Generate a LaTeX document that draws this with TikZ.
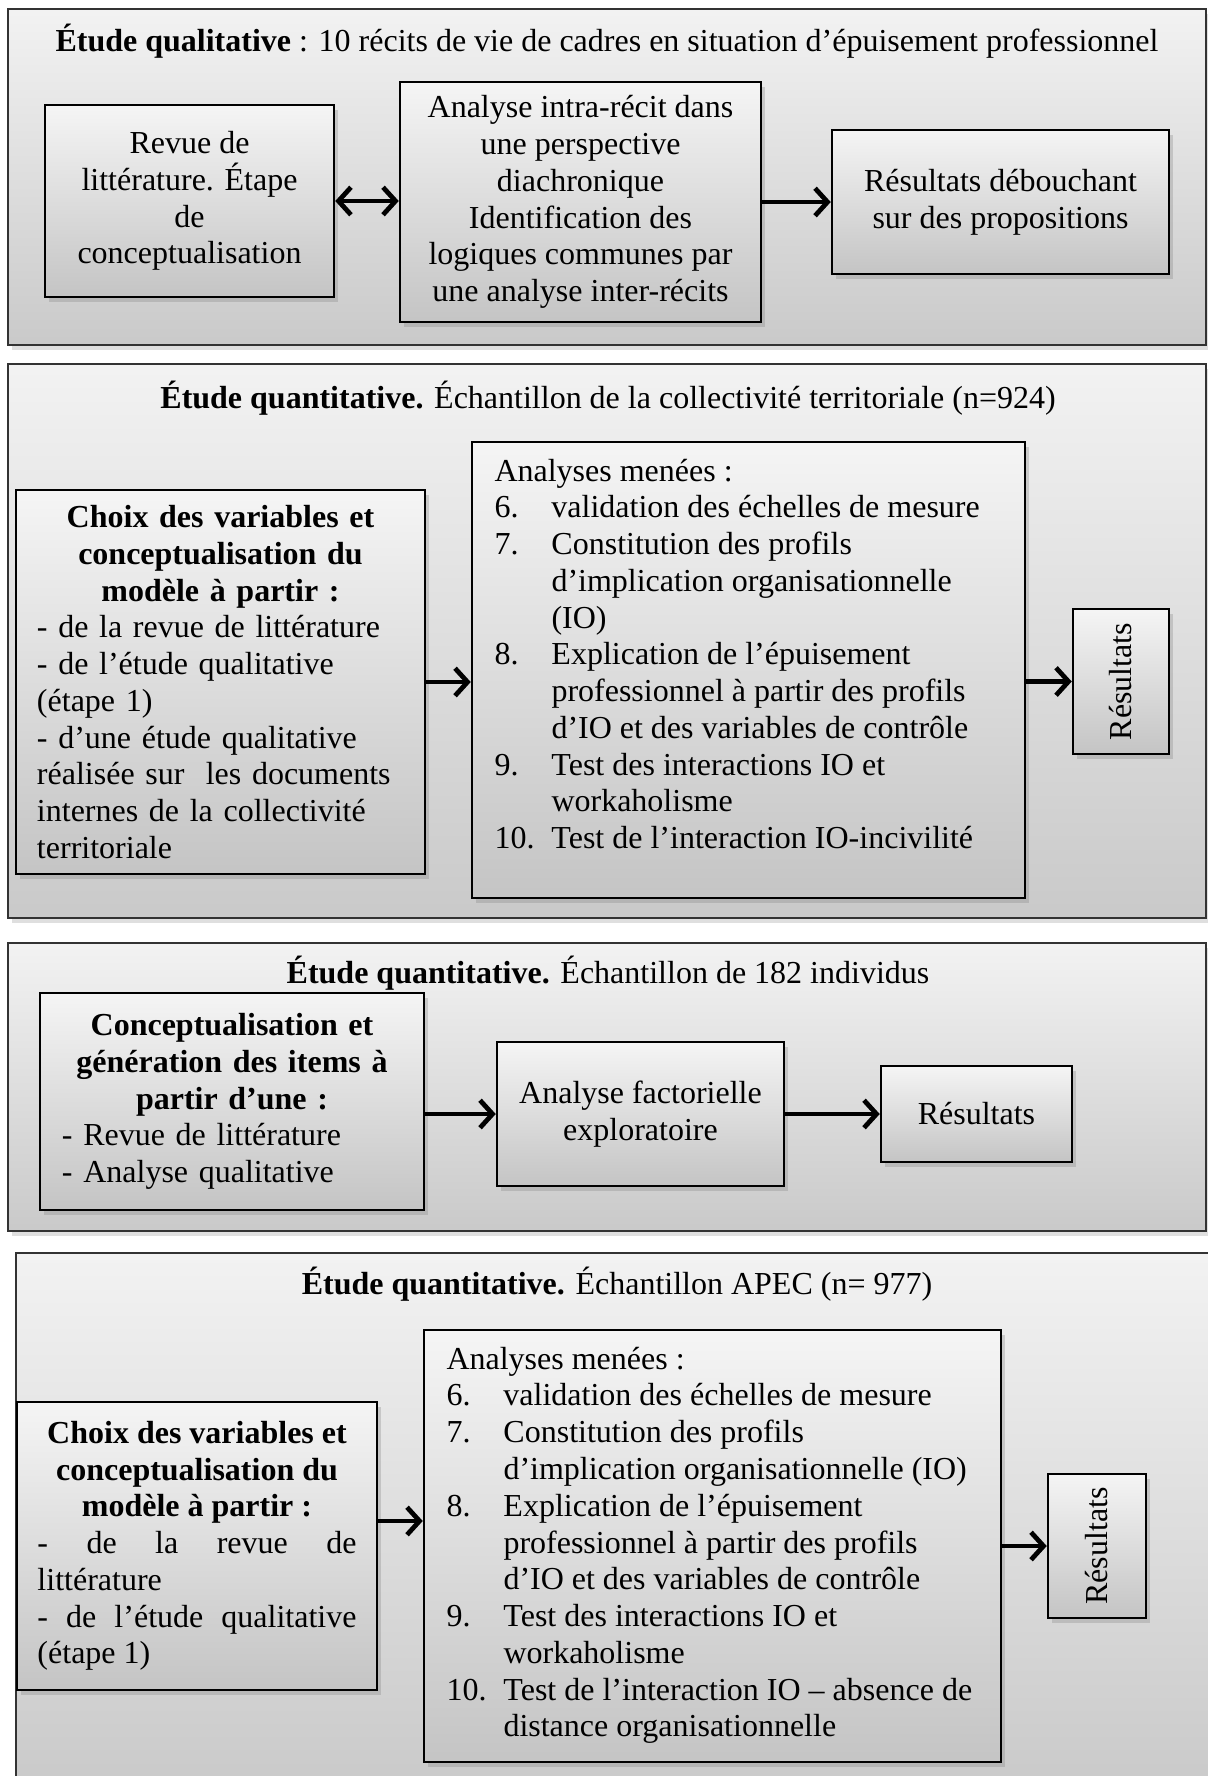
\documentclass[tikz,border=0pt]{standalone}
\usepackage{fontspec}
\setmainfont{Liberation Serif}
\usepackage{graphicx}
\usetikzlibrary{arrows.meta,shadows}
\begin{document}
\begin{tikzpicture}[x=0.4pt,y=-0.4pt,
  every node/.style={font=\fontsize{12.8}{14.7}\selectfont},
  panel/.style={draw=black!80, line width=1pt, top color=black!5, bottom color=black!21,
    drop shadow={shadow xshift=1.5pt,shadow yshift=-2pt,opacity=0.25}, inner sep=0pt},
  box/.style={draw=black, line width=1pt, top color=black!4, bottom color=black!23,
    drop shadow={shadow xshift=1.5pt,shadow yshift=-2pt,opacity=0.3}, inner sep=0pt, align=center},
  ttl/.style={anchor=base, inner sep=0pt},
  lst/.style={anchor=north west, inner sep=0pt},
  arr/.style={line width=1.9pt, -{Straight Barb[length=5pt,width=11pt]}},
  darr/.style={line width=1.9pt, {Straight Barb[length=5pt,width=11pt]}-{Straight Barb[length=5pt,width=11pt]}},
]
\useasboundingbox (0,0) rectangle (1208,1776);

% ---------- Panel 1 ----------
\node[panel, minimum width=479.2pt, minimum height=134.4pt] (p1) at (607,177) {};
\node[ttl] (t1) at (607,51) {\textbf{Étude qualitative} : 10 récits de vie de cadres en situation d’épuisement professionnel};
\node[box, minimum width=115.6pt, minimum height=76.8pt] (b11) at (189.5,201)
  {Revue de\\ littérature. Étape\\ de\\ conceptualisation};
\node[box, minimum width=144.4pt, minimum height=96pt] (b12) at (580.5,202)
  {Analyse intra-récit dans\\ une perspective\\ diachronique\\ Identification des\\ logiques communes par\\ une analyse inter-récits};
\node[box, minimum width=134.8pt, minimum height=57.6pt] (b13) at (1000.5,202)
  {Résultats débouchant\\ sur des propositions};
\draw[darr] (b11.east) -- (b11.east -| b12.west);
\draw[arr] (b12.east |- b13.west) -- (b13.west);

% ---------- Panel 2 ----------
\node[panel, minimum width=479.2pt, minimum height=221.6pt] (p2) at (607,641) {};
\node[ttl] (t2) at (608,408) {\textbf{Étude quantitative.} Échantillon de la collectivité territoriale (n=924)};
\node[box, minimum width=163.6pt, minimum height=153.6pt, text width=146.8pt, align=left] (b21) at (220.5,682)
  {{\centering\bfseries Choix des variables et\\ conceptualisation du\\ modèle à partir :\par}%
   - de la revue de littérature\\ - de l’étude qualitative\\ (étape 1)\\ - d’une étude qualitative\\ réalisée sur\ \ les documents\\ internes de la collectivité\\ territoriale};
\node[box, minimum width=221.2pt, minimum height=182.4pt] (b22) at (748.5,670) {};
\node[lst] (l22) at (494,455) {\begin{tabular}{@{}p{22.8pt}@{}l@{}}
  \multicolumn{2}{@{}l@{}}{Analyses menées :}\\
  6. & validation des échelles de mesure\\
  7. & Constitution des profils\\
     & d’implication organisationnelle\\
     & (IO)\\
  8. & Explication de l’épuisement\\
     & professionnel à partir des profils\\
     & d’IO et des variables de contrôle\\
  9. & Test des interactions IO et\\
     & workaholisme\\
  10. & Test de l’interaction IO-incivilité
  \end{tabular}};
\node[box, minimum width=38.4pt, minimum height=58pt] (b23) at (1121,681.5) {\rotatebox{90}{Résultats}};
\draw[arr] (b21.east) -- (b21.east -| b22.west);
\draw[arr] (b23.west -| b22.east) -- (b23.west);

% ---------- Panel 3 ----------
\node[panel, minimum width=479.2pt, minimum height=115.2pt] (p3) at (607,1087) {};
\node[ttl] (t3) at (608,983) {\textbf{Étude quantitative.} Échantillon de 182 individus};
\node[box, minimum width=153.6pt, minimum height=86.8pt, text width=136pt, align=left] (b31) at (232,1101.5)
  {{\centering\bfseries Conceptualisation et\\ génération des items à\\ partir d’une :\par}%
   - Revue de littérature\\ - Analyse qualitative};
\node[box, minimum width=114.8pt, minimum height=57.6pt] (b32) at (640.5,1114) {Analyse factorielle\\ exploratoire};
\node[box, minimum width=76.4pt, minimum height=38.4pt] (b33) at (976.5,1114) {Résultats};
\draw[arr] (b31.east |- b32.west) -- (b32.west);
\draw[arr] (b32.east) -- (b33.west);

% ---------- Panel 4 ----------
\node[panel, minimum width=479.6pt, minimum height=214.8pt] (p4) at (615.5,1521.5) {};
\node[ttl] (t4) at (617,1294) {\textbf{Étude quantitative.} Échantillon APEC (n= 977)};
\node[box, minimum width=144pt, minimum height=115.2pt, text width=127.6pt, align=justify] (b41) at (197,1546)
  {{\centering\bfseries Choix des variables et\\ conceptualisation du\\ modèle à partir :\par}%
   - de la revue de\linebreak littérature\\ - de l’étude qualitative\linebreak (étape 1)};
\node[box, minimum width=230.8pt, minimum height=172.8pt] (b42) at (712.5,1546) {};
\node[lst] (l42) at (446,1343) {\begin{tabular}{@{}p{22.8pt}@{}l@{}}
  \multicolumn{2}{@{}l@{}}{Analyses menées :}\\
  6. & validation des échelles de mesure\\
  7. & Constitution des profils\\
     & d’implication organisationnelle (IO)\\
  8. & Explication de l’épuisement\\
     & professionnel à partir des profils\\
     & d’IO et des variables de contrôle\\
  9. & Test des interactions IO et\\
     & workaholisme\\
  10. & Test de l’interaction IO – absence de\\
      & distance organisationnelle
  \end{tabular}};
\node[box, minimum width=39.2pt, minimum height=57.6pt] (b43) at (1097,1546) {\rotatebox{90}{Résultats}};
\coordinate (a4) at (0,1521);
\draw[arr] (b41.east |- a4) -- (b42.west |- a4);
\draw[arr] (b43.west -| b42.east) -- (b43.west);
\end{tikzpicture}
\end{document}
